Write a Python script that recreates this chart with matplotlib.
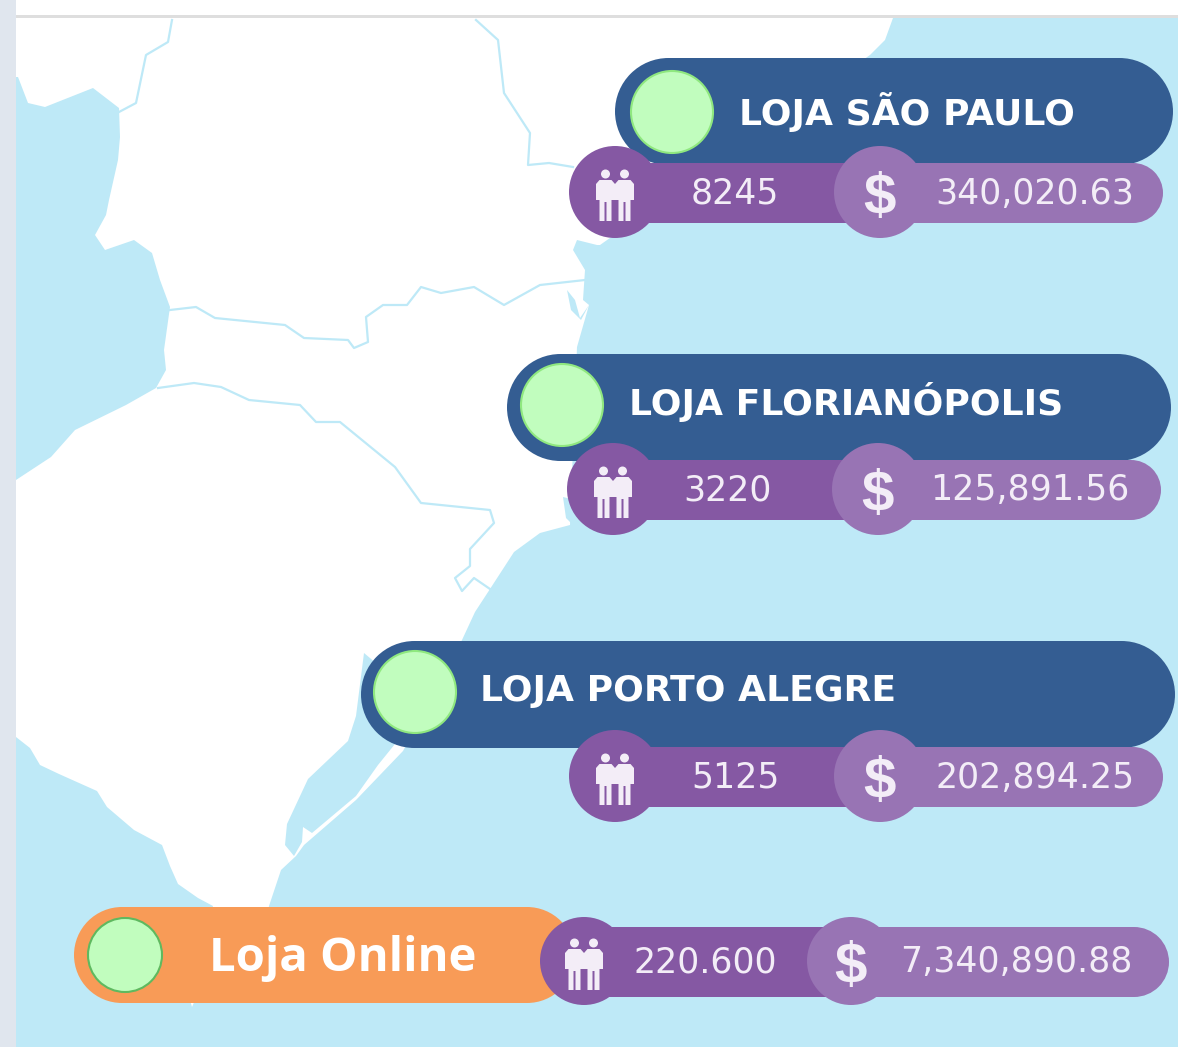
import matplotlib
matplotlib.use("Agg")
import matplotlib.pyplot as plt
from matplotlib.patches import Circle, Polygon, Rectangle

# map outlines (pixels)
land_x = [16, 893, 885, 870, 600, 597, 577, 573, 585, 583, 589, 577, 570, 540, 514, 490, 475, 462, 403, 356, 304, 296, 281, 273, 269, 250, 195, 192, 190, 213, 198, 178, 170, 162, 134, 107, 97, 59, 40, 30, 16]
land_y = [18, 18, 40, 55, 245, 245, 240, 250, 270, 300, 305, 347, 525, 533, 552, 589, 612, 640, 751, 800, 845, 856, 870, 894, 906, 1000, 1000, 1007, 1000, 906, 898, 884, 866, 845, 830, 807, 791, 774, 765, 748, 737]
west_x = [16, 18, 28, 45, 93, 119, 120, 118, 109, 106, 95, 105, 134, 152, 160, 170, 164, 166, 156, 126, 75, 51, 16]
west_y = [77, 77, 103, 107, 88, 108, 137, 160, 200, 215, 235, 250, 240, 253, 280, 307, 350, 370, 388, 405, 430, 457, 480]
lagoon_x = [364, 356, 348, 308, 287, 285, 294, 302, 303, 312, 356, 378, 395, 420]
lagoon_y = [653, 716, 741, 779, 824, 845, 856, 842, 827, 833, 796, 765, 744, 700]
inlet_x = [567, 571, 581, 589, 580, 575]
inlet_y = [290, 310, 320, 305, 318, 300]
bay_x = [563, 575, 572, 566]
bay_y = [497, 500, 524, 518]

river_a_x = [172, 168, 146, 136, 119]
river_a_y = [20, 42, 55, 103, 112]
river_b_x = [476, 498, 504, 530, 528, 549, 573]
river_b_y = [20, 40, 93, 133, 165, 163, 167]
river_c_x = [170, 196, 215, 285, 304, 348, 354, 368, 366, 383, 407, 421, 441, 474, 504, 540, 585]
river_c_y = [310, 307, 318, 325, 338, 340, 348, 342, 317, 305, 305, 287, 293, 287, 305, 285, 280]
river_d_x = [158, 194, 221, 249, 300, 316, 340, 395, 421, 490, 494, 470, 470, 455, 462, 474, 490]
river_d_y = [388, 383, 387, 400, 405, 422, 422, 467, 503, 510, 523, 549, 566, 578, 591, 578, 589]

# the four stores
stores = ["LOJA SÃO PAULO", "LOJA FLORIANÓPOLIS", "LOJA PORTO ALEGRE", "Loja Online"]
visitors = ["8245", "3220", "5125", "220.600"]
revenue = ["340,020.63", "125,891.56", "202,894.25", "7,340,890.88"]

# layout per store: pill left, right, top, bottom, dot x, dot y, dot radius, label x, label y
pills = [
    (615, 1173, 58, 165, 672, 112, 41, 739, 108),
    (507, 1171, 354, 461, 562, 405, 41, 629, 399),
    (361, 1175, 641, 748, 415, 692, 41, 480, 688),
    (74, 575, 907, 1003, 125, 955, 37, 209, 953),
]
# bar top, bottom, right, icon x, dollar x, circle radius, visitors centre, revenue centre
bars = [
    (163, 223, 1163, 615, 880, 46, 735, 1035),
    (460, 520, 1161, 613, 878, 46, 728, 1030),
    (747, 807, 1163, 615, 880, 46, 736, 1035),
    (927, 997, 1169, 584, 851, 44, 705, 1016),
]

sea = "#BEE9F7"
navy = "#345D92"
orange = "#F89B57"
purple = "#8558A3"
lilac = "#9874B4"
white_text = "#F3EDF7"


def pill(ax, x0, x1, y0, y1, color, z):
    r = (y1 - y0) / 2
    ax.add_patch(Rectangle((x0 + r, y0), x1 - x0 - 2 * r, y1 - y0, facecolor=color, edgecolor="none", zorder=z))
    ax.add_patch(Circle((x0 + r, y0 + r), r, facecolor=color, edgecolor="none", zorder=z))
    ax.add_patch(Circle((x1 - r, y0 + r), r, facecolor=color, edgecolor="none", zorder=z))


def people(ax, cx, cy):
    for dx in (-9.5, 9.5):
        x = cx + dx
        ax.add_patch(Circle((x, cy - 21), 4.5, facecolor=white_text, edgecolor="none", zorder=8))
        ax.add_patch(Polygon([(x - 6, cy - 15), (x + 6, cy - 15), (x + 9.5, cy - 11), (x + 9.5, cy + 5),
                              (x + 6, cy + 5), (x + 6, cy + 26), (x + 1, cy + 26),
                              (x + 1, cy + 7), (x - 1, cy + 7), (x - 1, cy + 26),
                              (x - 6, cy + 26), (x - 6, cy + 5), (x - 9.5, cy + 5), (x - 9.5, cy - 11)],
                             facecolor=white_text, edgecolor="none", zorder=8))


fig = plt.figure(figsize=(11.78, 10.47), dpi=100)
ax = fig.add_axes([0, 0, 1, 1])
ax.set_xlim(0, 1178)
ax.set_ylim(1047, 0)
ax.axis("off")

ax.add_patch(Rectangle((0, 0), 1178, 1047, facecolor=sea, edgecolor="none", zorder=0))
ax.add_patch(Polygon(list(zip(land_x, land_y)), facecolor="white", edgecolor="none", zorder=1))
for xs, ys in [(west_x, west_y), (lagoon_x, lagoon_y), (inlet_x, inlet_y), (bay_x, bay_y)]:
    ax.add_patch(Polygon(list(zip(xs, ys)), facecolor=sea, edgecolor="none", zorder=2))
for xs, ys in [(river_a_x, river_a_y), (river_b_x, river_b_y), (river_c_x, river_c_y), (river_d_x, river_d_y)]:
    ax.plot(xs, ys, color=sea, lw=1.6, zorder=2, solid_joinstyle="round")

# page chrome
ax.add_patch(Rectangle((0, 0), 1178, 16, facecolor="white", edgecolor="none", zorder=3))
ax.add_patch(Rectangle((16, 15), 1162, 3, facecolor="#DEDEDE", edgecolor="none", zorder=3))
ax.add_patch(Rectangle((0, 0), 16, 1047, facecolor="#E0E6EE", edgecolor="none", zorder=3))

for i, name in enumerate(stores):
    x0, x1, y0, y1, dx, dy, dr, lx, ly = pills[i]
    online = name == "Loja Online"
    pill(ax, x0, x1, y0, y1, orange if online else navy, 4)
    ax.add_patch(Circle((dx, dy), dr, facecolor="#C1FDBE", edgecolor="#5FB95F" if online else "#8FE87F", lw=1.5, zorder=5))
    if online:
        ax.text(lx, ly, name, color="white", fontsize=34, fontweight="bold",
                family="Open Sans", va="center_baseline", ha="left", zorder=8)
    else:
        ax.text(lx, ly, name, color="white", fontsize=26, fontweight="bold",
                family="DejaVu Sans", va="center_baseline", ha="left", zorder=8)

    t, b, right, ix, sx, r, vc, rc = bars[i]
    my = (t + b) / 2
    pill(ax, sx - 20, right, t, b, lilac, 5)
    ax.add_patch(Rectangle((ix, t), sx - ix, b - t, facecolor=purple, edgecolor="none", zorder=6))
    ax.add_patch(Circle((ix, my - 1), r, facecolor=purple, edgecolor="none", zorder=6))
    ax.add_patch(Circle((sx, my - 1), r, facecolor=lilac, edgecolor="none", zorder=7))
    people(ax, ix, my + 2)
    ax.text(sx, my, "$", color=white_text, fontsize=42, fontweight="bold", family="Liberation Sans",
            ha="center", va="center_baseline", zorder=8)
    ax.text(vc, my - 3, visitors[i], color=white_text, fontsize=25, family="DejaVu Sans",
            ha="center", va="center_baseline", zorder=8)
    ax.text(rc, my - 3, revenue[i], color=white_text, fontsize=25, family="DejaVu Sans",
            ha="center", va="center_baseline", zorder=8)

fig.savefig("out.png", dpi=100)
